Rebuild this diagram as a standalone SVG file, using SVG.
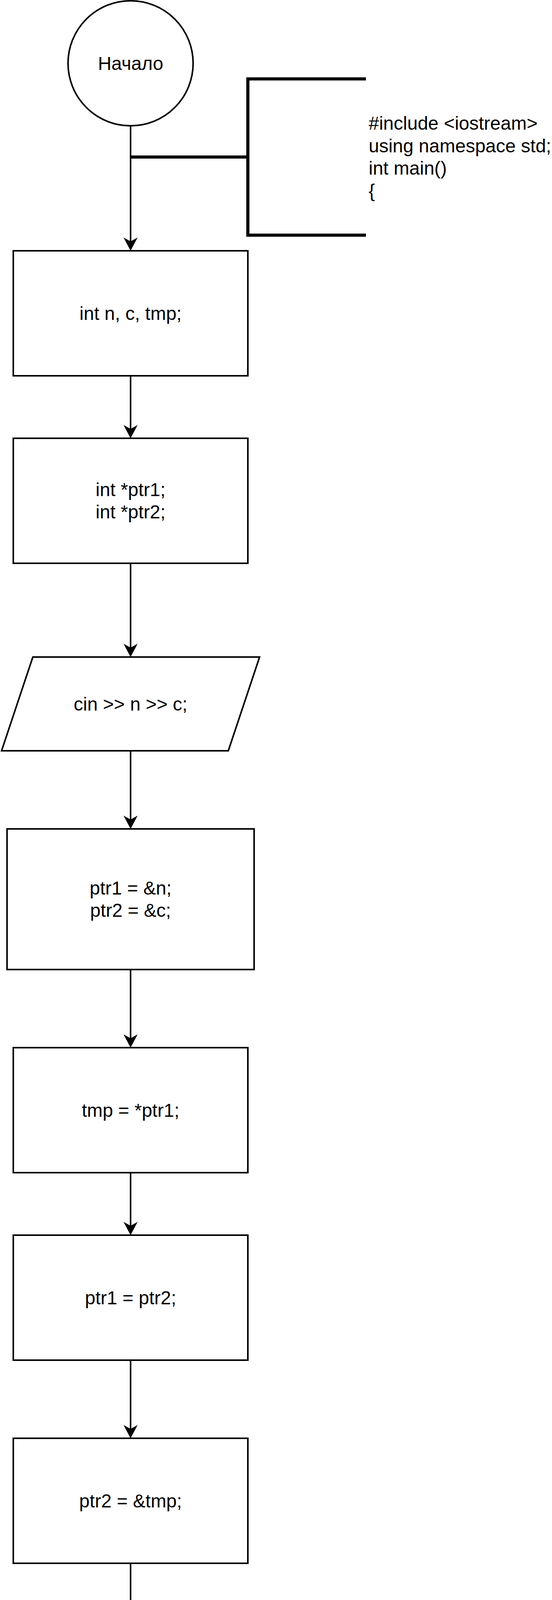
<svg xmlns="http://www.w3.org/2000/svg" width="1412" height="5640" viewBox="0 0 1412 5640">
  <defs>
    <style>
      .shape { fill: #ffffff; stroke: #000000; stroke-width: 4; stroke-linejoin: miter; }
      .conn { fill: none; stroke: #000000; stroke-width: 4; }
      .brk { fill: none; stroke: #000000; stroke-width: 8; stroke-linejoin: miter; stroke-linecap: butt; }
      .lbl { font-family: "Liberation Sans", Arial, sans-serif; font-size: 48px; fill: #000000; text-anchor: middle; }
      .note { font-family: "Liberation Sans", Arial, sans-serif; font-size: 48px; fill: #000000; text-anchor: start; }
    </style>
    <marker id="arrow" viewBox="0 0 36 36" markerUnits="userSpaceOnUse" markerWidth="36" markerHeight="36" refX="10" refY="18" orient="auto">
      <path d="M34,18 L0,0 L10,18 L0,36 Z" fill="#000000" stroke="none"/>
    </marker>
  </defs>
  <rect x="0" y="0" width="1412" height="5640" fill="#ffffff"/>

  <g id="connectors">
    <line class="conn" x1="334" y1="322" x2="334" y2="618" marker-end="url(#arrow)"/>
    <line class="conn" x1="334" y1="962" x2="334" y2="1098" marker-end="url(#arrow)"/>
    <line class="conn" x1="334" y1="1442" x2="334" y2="1658" marker-end="url(#arrow)"/>
    <line class="conn" x1="334" y1="1922" x2="334" y2="2098" marker-end="url(#arrow)"/>
    <line class="conn" x1="334" y1="2482" x2="334" y2="2658" marker-end="url(#arrow)"/>
    <line class="conn" x1="334" y1="3002" x2="334" y2="3138" marker-end="url(#arrow)"/>
    <line class="conn" x1="334" y1="3482" x2="334" y2="3658" marker-end="url(#arrow)"/>
    <line class="conn" x1="334" y1="4002" x2="334" y2="4138" marker-end="url(#arrow)"/>
    <line class="conn" x1="334" y1="4482" x2="334" y2="4618" marker-end="url(#arrow)"/>
    <line class="conn" x1="334" y1="4882" x2="334" y2="5258" marker-end="url(#arrow)"/>
    <path class="brk" d="M334,402 H634"/>
    <path class="brk" d="M334,5122 H634"/>
  </g>

  <g id="start">
    <circle class="shape" cx="334" cy="162" r="160"/>
    <text class="lbl" x="334" y="178.6">Начало</text>
  </g>

  <g id="note-top">
    <path class="brk" d="M936,202 H634 V602 H936"/>
    <text class="note" x="943" y="332.2">#include &lt;iostream&gt;</text>
    <text class="note" x="943" y="389.8">using namespace std;</text>
    <text class="note" x="943" y="447.4">int main()</text>
    <text class="note" x="943" y="505">{</text>
  </g>

  <g id="decl-vars">
    <rect class="shape" x="34" y="642" width="600" height="320"/>
    <text class="lbl" x="334" y="818.6">int n, c, tmp;</text>
  </g>

  <g id="decl-ptrs">
    <rect class="shape" x="34" y="1122" width="600" height="320"/>
    <text class="lbl" x="334" y="1269.8">int *ptr1;</text>
    <text class="lbl" x="334" y="1327.4">int *ptr2;</text>
  </g>

  <g id="input">
    <polygon class="shape" points="84,1682 664,1682 584,1922 4,1922"/>
    <text class="lbl" x="334" y="1818.6">cin &gt;&gt; n &gt;&gt; c;</text>
  </g>

  <g id="assign-addr">
    <rect class="shape" x="18" y="2122" width="632" height="360"/>
    <text class="lbl" x="334" y="2289.8">ptr1 = &amp;n;</text>
    <text class="lbl" x="334" y="2347.4">ptr2 = &amp;c;</text>
  </g>

  <g id="tmp-assign">
    <rect class="shape" x="34" y="2682" width="600" height="320"/>
    <text class="lbl" x="334" y="2858.6">tmp = *ptr1;</text>
  </g>

  <g id="ptr1-assign">
    <rect class="shape" x="34" y="3162" width="600" height="320"/>
    <text class="lbl" x="334" y="3338.6">ptr1 = ptr2;</text>
  </g>

  <g id="ptr2-assign">
    <rect class="shape" x="34" y="3682" width="600" height="320"/>
    <text class="lbl" x="334" y="3858.6">ptr2 = &amp;tmp;</text>
  </g>

  <g id="deref-assign">
    <rect class="shape" x="34" y="4162" width="600" height="320"/>
    <text class="lbl" x="334" y="4309.8">n = *ptr1;</text>
    <text class="lbl" x="334" y="4367.4">c = *ptr2;</text>
  </g>

  <g id="output">
    <polygon class="shape" points="84,4642 664,4642 584,4882 4,4882"/>
    <text class="lbl" x="334" y="4778.6">cout &lt;&lt; n &lt;&lt; c &lt;&lt; endl;</text>
  </g>

  <g id="note-bottom">
    <path class="brk" d="M936,4922 H634 V5322 H936"/>
    <text class="note" x="943" y="5109.8">return 0;</text>
    <text class="note" x="943" y="5167.4">}</text>
  </g>

  <g id="end">
    <circle class="shape" cx="334" cy="5442" r="160"/>
    <text class="lbl" x="334" y="5458.6">Конец</text>
  </g>
</svg>
